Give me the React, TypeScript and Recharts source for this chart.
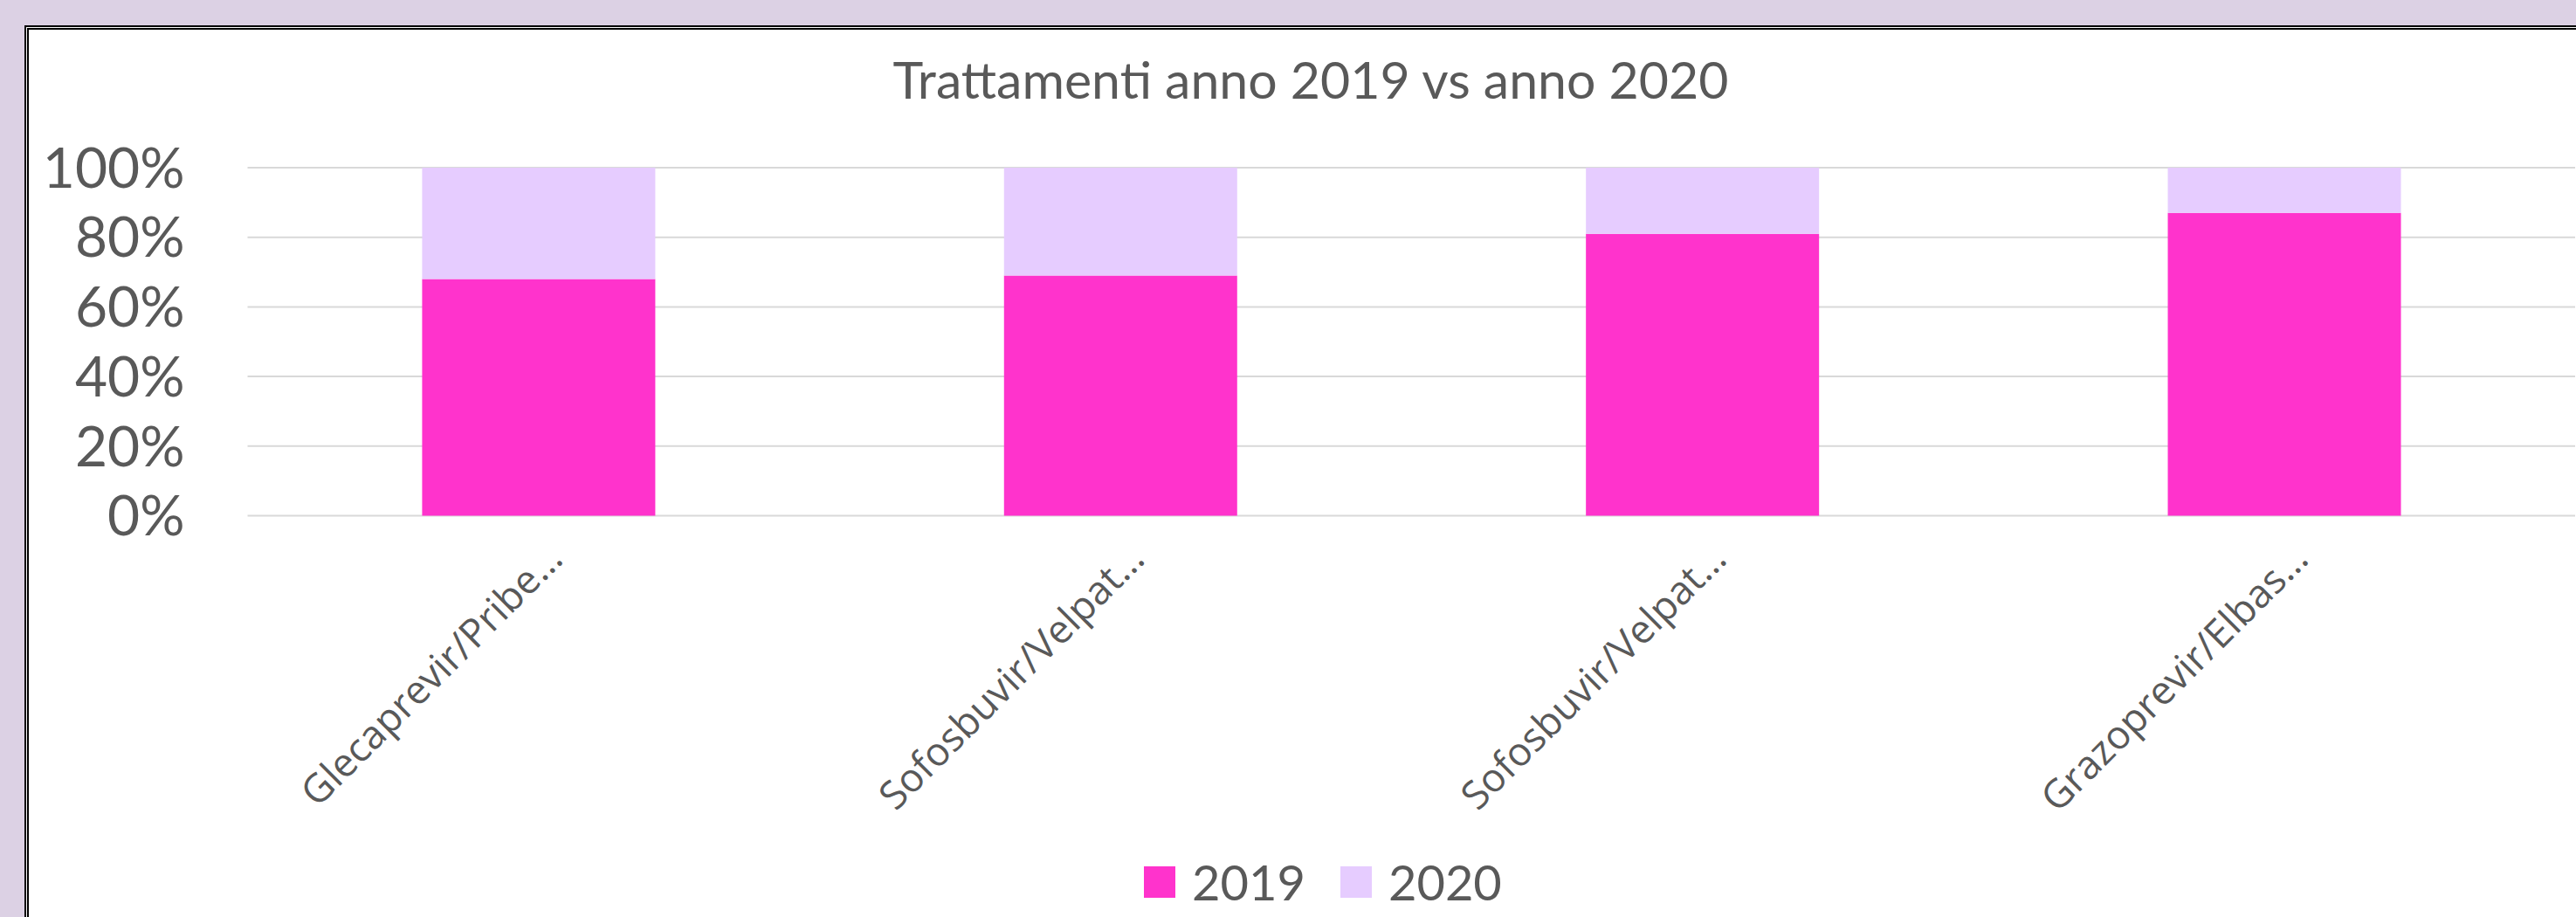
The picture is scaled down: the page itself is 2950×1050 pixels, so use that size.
import { BarChart, Bar, XAxis, YAxis, CartesianGrid, Legend } from 'recharts'

const categories = ['Glecaprevir/Pribe…', 'Sofosbuvir/Velpat…', 'Sofosbuvir/Velpat…', 'Grazoprevir/Elbas…']
const values2019 = [68, 69, 81, 87]
const values2020 = [32, 31, 19, 13]
const seriesNames = ['2019', '2020']
const seriesColors = ['#FF33CC', '#E6CCFF']
const yTicks = [0, 0.2, 0.4, 0.6, 0.8, 1]

const TEXT = '#595959'

const data = categories.map((name, i) => ({
    name,
    y2019: values2019[i],
    y2020: values2020[i],
}))

function CategoryTick({ x, y, payload }: any) {
    return (
        <g transform={`translate(${x + 30},${y + 52})`}>
            <text
                textAnchor="end"
                transform="rotate(-45)"
                fill={TEXT}
                fontSize={45}
                fontFamily="'Open Sans', sans-serif"
            >
                {payload.value}
            </text>
        </g>
    )
}

function LegendContent() {
    return (
        <div style={{ display: 'flex', alignItems: 'center', height: 70, paddingLeft: 1310 }}>
            {seriesNames.map((name, i) => (
                <div key={name} style={{ display: 'flex', alignItems: 'center', marginRight: 40 }}>
                    <span style={{ width: 36, height: 36, background: seriesColors[i], marginRight: 19 }} />
                    <span style={{ fontFamily: 'Lato, sans-serif', fontSize: 56, color: TEXT, lineHeight: '70px' }}>
                        {name}
                    </span>
                </div>
            ))}
        </div>
    )
}

export default function App() {
    return (
        <div
            style={{
                position: 'fixed',
                left: 0,
                top: 0,
                width: 2950,
                height: 1050,
                overflow: 'hidden',
                background: '#DCD1E4',
            }}
        >
            {/* white chart area with the double frame, cut off on the right and bottom */}
            <div
                style={{
                    position: 'absolute',
                    left: 28,
                    top: 29,
                    width: 2980,
                    height: 1080,
                    background: '#FFFFFF',
                    border: '5px double #000000',
                    boxSizing: 'border-box',
                }}
            />
            <div
                style={{
                    position: 'absolute',
                    left: 1501,
                    top: 61,
                    transform: 'translateX(-50%)',
                    whiteSpace: 'nowrap',
                    fontFamily: 'Lato, sans-serif',
                    fontSize: 59,
                    lineHeight: '59px',
                    color: TEXT,
                }}
            >
                Trattamenti anno 2019 vs anno 2020
            </div>
            <div style={{ position: 'absolute', left: 0, top: 0 }}>
                <BarChart
                    width={2950}
                    height={1050}
                    data={data}
                    stackOffset="expand"
                    barCategoryGap="30%"
                    margin={{ top: 192, right: 1, left: 83.5, bottom: 5 }}
                >
                    <CartesianGrid vertical={false} stroke="#D9D9D9" strokeWidth={2} />
                    <XAxis
                        dataKey="name"
                        axisLine={false}
                        tickLine={false}
                        tickSize={0}
                        tickMargin={0}
                        height={384.5}
                        interval={0}
                        tick={<CategoryTick />}
                    />
                    <YAxis
                        domain={[0, 1]}
                        ticks={yTicks}
                        tickFormatter={(v: number) => `${Math.round(v * 100)}%`}
                        axisLine={false}
                        tickLine={false}
                        tickSize={0}
                        tickMargin={72}
                        width={200}
                        tick={{ fill: TEXT, fontSize: 64, fontFamily: 'Lato, sans-serif' }}
                    />
                    <Legend
                        content={<LegendContent />}
                        verticalAlign="bottom"
                        wrapperStyle={{ position: 'absolute', left: 0, top: 975, width: 2950, height: 70 }}
                    />
                    <Bar dataKey="y2019" name={seriesNames[0]} stackId="a" fill={seriesColors[0]} isAnimationActive={false} />
                    <Bar dataKey="y2020" name={seriesNames[1]} stackId="a" fill={seriesColors[1]} isAnimationActive={false} />
                </BarChart>
            </div>
        </div>
    )
}
